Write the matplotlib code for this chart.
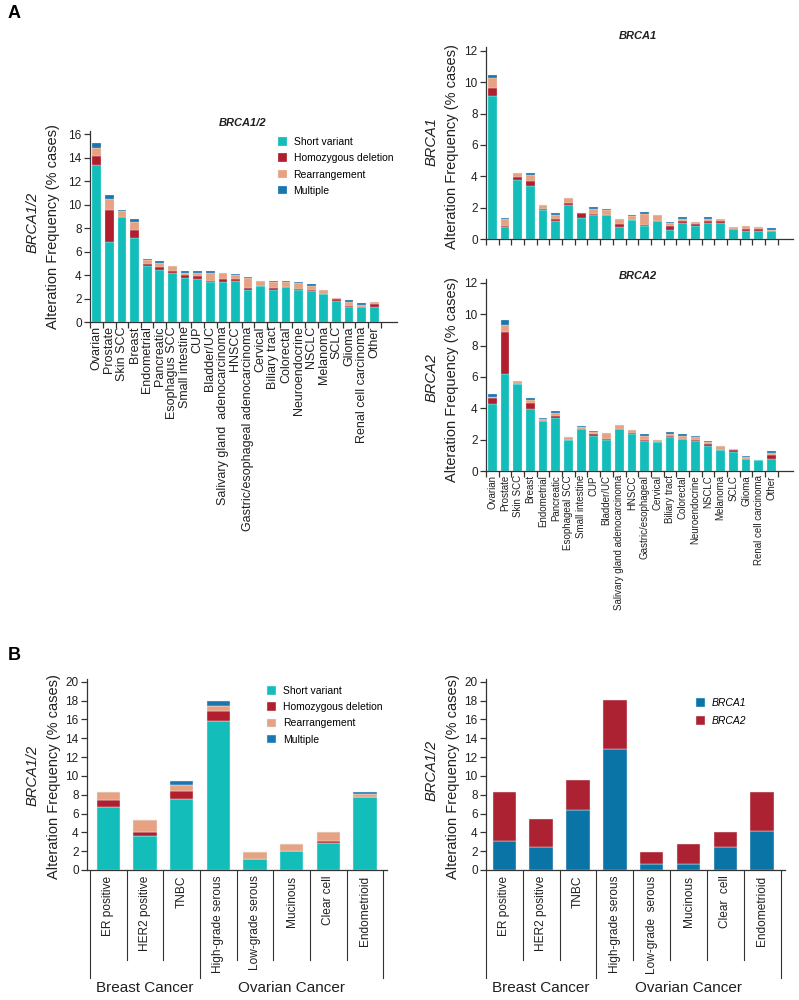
import numpy as np
import matplotlib
matplotlib.use('Agg')
import matplotlib.pyplot as plt

plt.rcParams['font.family'] = ['Liberation Sans', 'DejaVu Sans']

# colours
c_sv = '#12BDBA'
c_hd = '#B11F2E'
c_re = '#E6A282'
c_mu = '#1B75AE'
c_b1 = '#0B74A6'
c_b2 = '#AD2232'
ink = '#231F20'

# panel A data
tumors_all = ['Ovarian', 'Prostate', 'Skin SCC', 'Breast', 'Endometrial', 'Pancreatic',
              'Esophagus SCC', 'Small intestine', 'CUP', 'Bladder/UC',
              'Salivary gland  adenocarcinoma', 'HNSCC', 'Gastric/esophageal adenocarcinoma',
              'Cervical', 'Biliary tract', 'Colorectal', 'Neuroendocrine', 'NSCLC',
              'Melanoma', 'SCLC', 'Glioma', 'Renal cell carcinoma', 'Other']
tumors_split = ['Ovarian', 'Prostate', 'Skin SCC', 'Breast', 'Endometrial', 'Pancreatic',
                'Esophageal SCC', 'Small intestine', 'CUP', 'Bladder/UC',
                'Salivary gland adenocarcinoma', 'HNSCC', 'Gastric/esophageal',
                'Cervical', 'Biliary tract', 'Colorectal', 'Neuroendocrine', 'NSCLC',
                'Melanoma', 'SCLC', 'Glioma', 'Renal cell carcinoma', 'Other']

# BRCA1/2 combined (short variant, homozygous deletion, rearrangement, multiple)
all_sv = [13.36, 6.78, 8.96, 7.15, 4.77, 4.43, 4.20, 3.72, 3.63, 3.38, 3.38, 3.52, 2.72,
          3.04, 2.70, 2.95, 2.70, 2.61, 2.38, 1.82, 1.25, 1.28, 1.28]
all_hd = [0.77, 2.75, 0.00, 0.68, 0.19, 0.25, 0.11, 0.31, 0.26, 0.14, 0.25, 0.14, 0.15,
          0.00, 0.22, 0.00, 0.14, 0.11, 0.00, 0.11, 0.14, 0.00, 0.28]
all_re = [0.71, 0.91, 0.49, 0.65, 0.29, 0.37, 0.46, 0.17, 0.31, 0.68, 0.57, 0.34, 0.85,
          0.48, 0.48, 0.43, 0.45, 0.34, 0.34, 0.11, 0.31, 0.20, 0.17]
all_mu = [0.36, 0.34, 0.11, 0.26, 0.08, 0.17, 0.00, 0.14, 0.14, 0.14, 0.00, 0.11, 0.14,
          0.00, 0.12, 0.14, 0.14, 0.14, 0.00, 0.00, 0.14, 0.14, 0.00]

# BRCA1
b1_sv = [9.12, 0.74, 3.79, 3.35, 1.82, 1.17, 2.18, 1.31, 1.50, 1.50, 0.74, 1.23, 0.81,
         1.14, 0.57, 1.02, 0.83, 1.02, 1.02, 0.66, 0.51, 0.51, 0.51]
b1_hd = [0.50, 0.11, 0.17, 0.36, 0.11, 0.10, 0.11, 0.34, 0.11, 0.00, 0.21, 0.00, 0.10,
         0.00, 0.24, 0.10, 0.10, 0.10, 0.10, 0.00, 0.10, 0.10, 0.00]
b1_re = [0.66, 0.40, 0.24, 0.40, 0.27, 0.26, 0.32, 0.00, 0.32, 0.32, 0.32, 0.21, 0.68,
         0.36, 0.21, 0.17, 0.17, 0.17, 0.17, 0.12, 0.24, 0.13, 0.08]
b1_mu = [0.21, 0.09, 0.00, 0.11, 0.00, 0.10, 0.00, 0.00, 0.13, 0.11, 0.00, 0.09, 0.11,
         0.00, 0.08, 0.11, 0.00, 0.11, 0.00, 0.00, 0.00, 0.00, 0.09]

# BRCA2
b2_sv = [4.29, 6.17, 5.57, 3.97, 3.18, 3.40, 1.99, 2.67, 2.24, 1.99, 2.67, 2.35, 1.90,
         1.82, 2.18, 2.07, 1.90, 1.62, 1.32, 1.24, 0.79, 0.73, 0.79]
b2_hd = [0.38, 2.67, 0.00, 0.34, 0.00, 0.14, 0.00, 0.00, 0.15, 0.08, 0.00, 0.06, 0.10,
         0.06, 0.08, 0.00, 0.10, 0.11, 0.00, 0.11, 0.00, 0.00, 0.21]
b2_re = [0.05, 0.49, 0.20, 0.24, 0.15, 0.15, 0.21, 0.11, 0.07, 0.36, 0.28, 0.19, 0.24,
         0.08, 0.13, 0.17, 0.16, 0.09, 0.26, 0.08, 0.09, 0.00, 0.17]
b2_mu = [0.17, 0.28, 0.00, 0.13, 0.07, 0.11, 0.00, 0.10, 0.08, 0.00, 0.00, 0.00, 0.11,
         0.00, 0.09, 0.11, 0.10, 0.10, 0.00, 0.00, 0.10, 0.00, 0.09]

# panel B data
subtypes = ['ER positive', 'HER2 positive', 'TNBC', 'High-grade serous',
            'Low-grade serous', 'Mucinous', 'Clear cell', 'Endometrioid']
subtypes_r = ['ER positive', 'HER2 positive', 'TNBC', 'High-grade serous',
              'Low-grade  serous', 'Mucinous', 'Clear  cell', 'Endometrioid']
groups = ['Breast Cancer', 'Ovarian Cancer']
sub_sv = [6.71, 3.62, 7.57, 15.81, 1.17, 2.02, 2.91, 7.74]
sub_hd = [0.71, 0.39, 0.85, 1.10, 0.00, 0.00, 0.18, 0.00]
sub_re = [0.86, 1.28, 0.57, 0.57, 0.75, 0.75, 0.96, 0.29]
sub_mu = [0.00, 0.00, 0.49, 0.49, 0.00, 0.00, 0.00, 0.25]
sub_b1 = [3.05, 2.49, 6.43, 12.86, 0.67, 0.67, 2.49, 4.16]
sub_b2 = [5.23, 2.98, 3.13, 5.22, 1.25, 2.10, 1.52, 4.12]

alt_names = ['Short variant', 'Homozygous deletion', 'Rearrangement', 'Multiple']
alt_colors = [c_sv, c_hd, c_re, c_mu]

W, H = 799, 1000
fig = plt.figure(figsize=(W / 100, H / 100), dpi=100)


def box(x0, y_top, x1, y_bot):
    return [x0 / W, 1 - y_bot / H, (x1 - x0) / W, (y_bot - y_top) / H]


def ftext(x, y, s, **kw):
    fig.text(x / W, 1 - y / H, s, **kw)


def style(ax, ymax, step, xlim):
    ax.set_ylim(0, ymax)
    ax.set_xlim(*xlim)
    ax.set_yticks(np.arange(0, ymax, step))
    for s in ['top', 'right']:
        ax.spines[s].set_visible(False)
    for s in ['left', 'bottom']:
        ax.spines[s].set_color('#333333')
        ax.spines[s].set_linewidth(0.9)
    ax.tick_params(axis='y', length=4, width=0.9, color='#333333', labelsize=8.5,
                   labelcolor=ink, pad=2)


def stack(ax, series, colors, width, lw=0.2):
    x = np.arange(len(series[0]))
    bottom = np.zeros(len(x))
    bars = []
    for vals, col in zip(series, colors):
        b = ax.bar(x, vals, width, bottom=bottom, color=col, edgecolor='#e8f4f4', linewidth=lw)
        bars.append(b)
        bottom = bottom + np.array(vals)
    return x, bars


def a_xaxis(ax, x, labels, size=7.5):
    ax.set_xticks(x)
    ax.set_xticks(np.arange(len(x) + 1) - 0.5, minor=True)
    ax.tick_params(axis='x', which='major', length=0, pad=3)
    ax.tick_params(axis='x', which='minor', length=4, width=0.9, color='#333333')
    if labels is None:
        ax.set_xticklabels([])
    else:
        ax.set_xticklabels(labels, rotation=90, fontsize=size, color=ink, va='top', ha='center')


def legend(ax, handles, names, x, y, spacing):
    return ax.legend(handles, names, loc='upper left', bbox_to_anchor=(x / W, 1 - y / H),
                     bbox_transform=fig.transFigure, frameon=False, fontsize=7.5,
                     handlelength=0.9, handleheight=0.9, handletextpad=0.6,
                     labelspacing=spacing, borderpad=0, borderaxespad=0)


# ---- A left: BRCA1/2
ax1 = fig.add_axes(box(90, 130.5, 397, 322))
x, bars = stack(ax1, [all_sv, all_hd, all_re, all_mu], alt_colors, 0.69)
style(ax1, 16.3, 2, (-0.53, 23.8))
a_xaxis(ax1, x, tumors_all, size=9)
legend(ax1, bars, alt_names, 278, 137, 0.6)
ftext(243, 123, 'BRCA1/2', fontsize=8, fontweight='bold', style='italic',
      ha='center', va='center', color=ink)
ftext(33, 222, 'BRCA1/2', fontsize=10.5, style='italic', rotation=90,
      ha='center', va='center', color=ink)
ftext(53, 227, 'Alteration Frequency (% cases)', fontsize=10.5, rotation=90,
      ha='center', va='center', color=ink)

# ---- A top right: BRCA1
ax2 = fig.add_axes(box(486, 47, 793, 239))
x, _ = stack(ax2, [b1_sv, b1_hd, b1_re, b1_mu], alt_colors, 0.69)
style(ax2, 12.25, 2, (-0.5, 23.7))
a_xaxis(ax2, x, None)
ftext(638, 36, 'BRCA1', fontsize=8, fontweight='bold', style='italic',
      ha='center', va='center', color=ink)
ftext(432, 142, 'BRCA1', fontsize=10.5, style='italic', rotation=90,
      ha='center', va='center', color=ink)
ftext(452, 147, 'Alteration Frequency (% cases)', fontsize=10.5, rotation=90,
      ha='center', va='center', color=ink)

# ---- A bottom right: BRCA2
ax3 = fig.add_axes(box(486, 279, 793, 471))
x, _ = stack(ax3, [b2_sv, b2_hd, b2_re, b2_mu], alt_colors, 0.69)
style(ax3, 12.25, 2, (-0.5, 23.7))
a_xaxis(ax3, x, tumors_split, size=7)
ftext(638, 276, 'BRCA2', fontsize=8, fontweight='bold', style='italic',
      ha='center', va='center', color=ink)
ftext(432, 378, 'BRCA2', fontsize=10.5, style='italic', rotation=90,
      ha='center', va='center', color=ink)
ftext(452, 380, 'Alteration Frequency (% cases)', fontsize=10.5, rotation=90,
      ha='center', va='center', color=ink)


def b_xaxis(ax, x, labels):
    ax.set_xticks(x)
    ax.tick_params(axis='x', length=0, pad=4)
    ax.set_xticklabels(labels, rotation=90, fontsize=8.6, color=ink, va='top', ha='center')
    tr = ax.get_xaxis_transform()
    hpx = ax.get_position().height * H
    for i in range(len(x) + 1):
        long = i in (0, 3, len(x))
        depth = (108 if long else 90) / hpx
        ax.plot([i - 0.5, i - 0.5], [0, -depth], transform=tr, clip_on=False,
                color='#333333', lw=0.8)
    ax.text(1.0, -118 / hpx, groups[0], transform=tr, ha='center', va='center',
            fontsize=11, color=ink)
    ax.text(5.0, -118 / hpx, groups[1], transform=tr, ha='center', va='center',
            fontsize=11, color=ink)


# ---- B left
ax4 = fig.add_axes(box(87, 679, 387, 870))
x, bars = stack(ax4, [sub_sv, sub_hd, sub_re, sub_mu], alt_colors, 0.64, lw=0.3)
style(ax4, 20.3, 2, (-0.58, 7.6))
b_xaxis(ax4, x, subtypes)
legend(ax4, bars, alt_names, 267, 686, 0.6)
ftext(33, 775, 'BRCA1/2', fontsize=10.5, style='italic', rotation=90,
      ha='center', va='center', color=ink)
ftext(54, 777, 'Alteration Frequency (% cases)', fontsize=10.5, rotation=90,
      ha='center', va='center', color=ink)

# ---- B right
ax5 = fig.add_axes(box(486, 679, 785, 870))
x, bars = stack(ax5, [sub_b1, sub_b2], [c_b1, c_b2], 0.64, lw=0.3)
style(ax5, 20.3, 2, (-0.5, 7.62))
b_xaxis(ax5, x, subtypes_r)
leg = legend(ax5, bars, ['BRCA1', 'BRCA2'], 696, 698, 0.8)
for t in leg.get_texts():
    t.set_style('italic')
ftext(432, 770, 'BRCA1/2', fontsize=10.5, style='italic', rotation=90,
      ha='center', va='center', color=ink)
ftext(453, 777, 'Alteration Frequency (% cases)', fontsize=10.5, rotation=90,
      ha='center', va='center', color=ink)

# panel letters
ftext(14, 14, 'A', fontsize=13, fontweight='bold', ha='center', va='center', color='black')
ftext(14, 655, 'B', fontsize=13, fontweight='bold', ha='center', va='center', color='black')

fig.savefig('out.png', dpi=100)
